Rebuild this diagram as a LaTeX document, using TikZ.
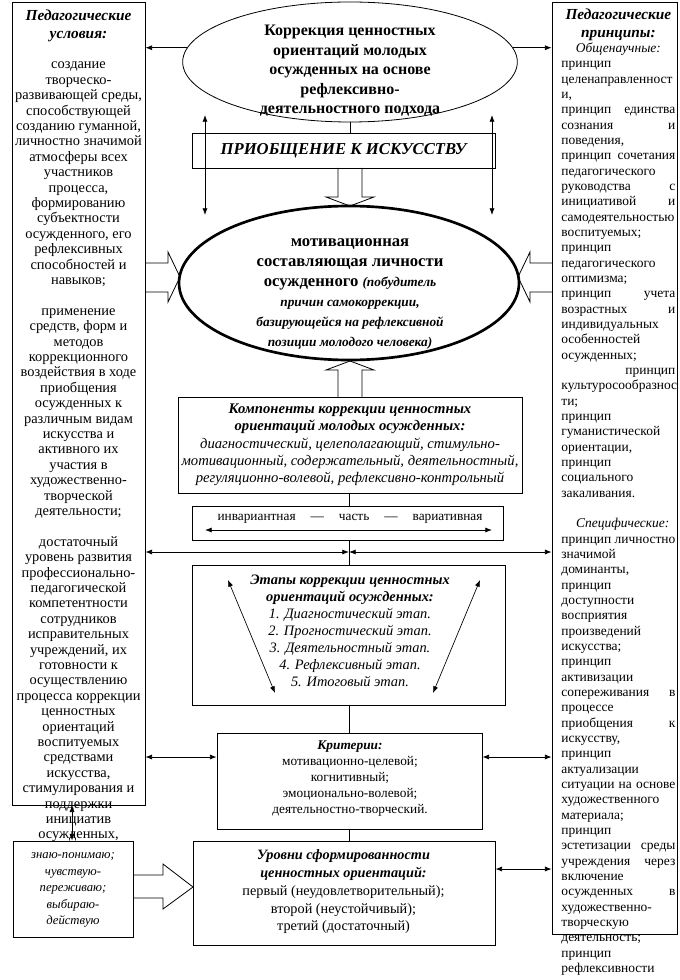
\documentclass[tikz,border=0pt]{standalone}
\usepackage{fontspec}
\setmainfont{Liberation Serif}
\usetikzlibrary{arrows.meta,shapes.geometric,fit,calc}
\newcommand\myfs[2]{\fontsize{#1}{#2}\selectfont}
\newcommand\ctrl[1]{\makebox[\linewidth][c]{#1}}
\newcommand\bi[1]{\textbf{\textit{#1}}}
\newcommand\ttl[1]{{\myfs{11.5}{11.55}\bi{#1}}}
\begin{document}
\begin{tikzpicture}[x=0.75pt,y=-0.75pt,line width=0.6pt,
  >={Latex[length=5pt,width=3.8pt]},
  frame/.style={draw,inner sep=0pt,fit={#1}},
  txt/.style={inner sep=0pt,align=center},
  hollow/.style={draw,line width=0.6pt}]
\useasboundingbox (0,0) rectangle (679,980);

% side columns
\node[frame={(12,2)(145,805)}] (lbox) {};
\node[frame={(552,2)(677,934)}] (rbox) {};

\node[txt,anchor=north,font=\myfs{10.8}{11.55}] (ltext) at (78.5,9) {%
\ttl{Педагогические}\\[2pt]
\ttl{условия:}\\
\mbox{}\\
создание\\
творческо-\\
развивающей среды,\\
способствующей\\
созданию гуманной,\\
личностно значимой\\
атмосферы всех\\
участников\\
процесса,\\
формированию\\
субъектности\\
осужденного, его\\
рефлексивных\\
способностей и\\
навыков;\\
\mbox{}\\
применение\\
средств, форм и\\
методов\\
коррекционного\\
воздействия в ходе\\
приобщения\\
осужденных к\\
различным видам\\
искусства и\\
активного их\\
участия в\\
художественно-\\
творческой\\
деятельности;\\
\mbox{}\\
достаточный\\
уровень развития\\
профессионально-\\
педагогической\\
компетентности\\
сотрудников\\
исправительных\\
учреждений, их\\
готовности к\\
осуществлению\\
процесса коррекции\\
ценностных\\
ориентаций\\
воспитуемых\\
средствами\\
искусства,\\
стимулирования и\\
поддержки\\
инициатив\\
осужденных,};

\node[inner sep=0pt,align=left,text width=85.5pt,anchor=north west,font=\myfs{10.1}{11.5}] (rtext) at (561,8) {%
\ctrl{\ttl{Педагогические}}\\[2pt]
\ctrl{\ttl{принципы:}}\\
\ctrl{\textit{Общенаучные:}}\\
принцип\\
целенаправленност\\
и,\\
принцип\hfill единства\\
сознания\hfill и\\
поведения,\\
принцип\hfill сочетания\\
педагогического\\
руководства\hfill с\\
инициативой\hfill и\\
самодеятельностью\\
воспитуемых;\\
принцип\\
педагогического\\
оптимизма;\\
принцип\hfill учета\\
возрастных\hfill и\\
индивидуальных\\
особенностей\\
осужденных;\\
\hspace*{\fill}принцип\\
культуросообразнос\\
ти;\\
принцип\\
гуманистической\\
ориентации,\\
принцип\\
социального\\
закаливания.\\
\mbox{}\\
\hspace*{1.1em}\textit{Специфические:}\\
принцип\hfill личностно\\
значимой\\
доминанты,\\
принцип\\
доступности\\
восприятия\\
произведений\\
искусства;\\
принцип\\
активизации\\
сопереживания\hfill в\\
процессе\\
приобщения\hfill к\\
искусству,\\
принцип\\
актуализации\\
ситуации\hfill на\hfill основе\\
художественного\\
материала;\\
принцип\\
эстетизации\hfill среды\\
учреждения\hfill через\\
включение\\
осужденных\hfill в\\
художественно-\\
творческую\\
деятельность;\\
принцип\\
рефлексивности};

% top ellipse
\node[draw,ellipse,minimum width=251pt,minimum height=90pt,inner sep=0pt] (ell1) at (350,62) {};
\node[txt,font=\bfseries\myfs{12}{14.6}] (ell1t) at (350,71) {Коррекция ценностных\\ориентаций молодых\\осужденных на основе\\рефлексивно-\\деятельностного подхода};

% art box
\node[frame={(192,133)(495,168)}] (pri) {};
\node[txt,font=\bfseries\itshape\myfs{12.5}{15}] (prit) at (343.5,150.5) {ПРИОБЩЕНИЕ К ИСКУССТВУ};

% motivation ellipse
\node[draw,ellipse,line width=2pt,minimum width=255pt,minimum height=115.5pt,inner sep=0pt] (ell2) at (349,283) {};
\node[txt,font=\bfseries\myfs{12.5}{15}] (ell2t) at (350,294) {мотивационная\\составляющая личности\\осужденного {\itshape\myfs{10}{15}(побудитель}\\
{\itshape\myfs{10}{15}причин самокоррекции,}\\
{\itshape\myfs{10}{15}базирующейся на рефлексивной}\\
{\itshape\myfs{10}{15}позиции молодого человека)}};

% components
\node[frame={(178,397)(522,493)}] (comp) {};
\node[txt,font=\itshape\myfs{11}{13}] (compt) at (350,445) {\bi{Компоненты коррекции ценностных}\\\bi{ориентаций молодых осужденных:}\\
диагностический, целеполагающий, стимульно-\\мотивационный, содержательный, деятельностный,\\регуляционно-волевой, рефлексивно-контрольный};

% invariant
\node[frame={(192,506)(503,540)}] (inv) {};
\node[txt,font=\myfs{10}{12}] (invt) at (350,519) {\makebox[198.75pt][s]{инвариантная\hfill—\hfill часть\hfill—\hfill вариативная}};
\coordinate (ia) at (205,530);
\coordinate (ib) at (492,530);
\draw[<->] (ia) -- (ib);

% stages
\node[frame={(192,565)(505,705)}] (stg) {};
\node[txt,font=\itshape\myfs{10.8}{12.8}] (stgt) at (350,631) {\bi{Этапы коррекции ценностных}\\\bi{ориентаций осужденных:}\\
1. Диагностический этап.\\2. Прогностический этап.\\3. Деятельностный этап.\\4. Рефлексивный этап.\\5. Итоговый этап.};
\coordinate (sa1) at (228,580); \coordinate (sa2) at (275,693);
\coordinate (sb1) at (480,580); \coordinate (sb2) at (433,693);
\draw[<->,line width=0.5pt] (sa1) -- (sa2);
\draw[<->,line width=0.5pt] (sb1) -- (sb2);

% criteria
\node[frame={(217,733)(482,829)}] (crit) {};
\node[txt,font=\myfs{10}{12}] (critt) at (350,779) {\bi{Критерии:}\\мотивационно-целевой;\\когнитивный;\\эмоционально-волевой;\\деятельностно-творческий.};

% levels
\node[frame={(193,841)(495,945)}] (lev) {};
\node[txt,font=\myfs{10.7}{13.3}] (levt) at (343.5,892) {\bi{Уровни сформированности}\\\bi{ценностных ориентаций:}\\первый (неудовлетворительный);\\второй (неустойчивый);\\третий (достаточный)};

% small box
\node[frame={(13,841)(133,937)}] (sml) {};
\node[txt,font=\itshape\myfs{9.5}{12.4}] (smlt) at (73,890) {знаю-понимаю;\\чувствую-\\переживаю;\\выбираю-\\действую};

% connectors
\draw[->] (ell1.175) -- (lbox.east |- ell1.175);
\draw[->] (ell1.5) -- (rbox.west |- ell1.5);
\coordinate (va1) at (205,115); \coordinate (va2) at (205,215);
\coordinate (vb1) at (492,115); \coordinate (vb2) at (492,215);
\draw[<->] (va1) -- (va2);
\draw[<->] (vb1) -- (vb2);
\draw (ell1.south) -- (ell1.south |- pri.north);

% hollow arrows
\draw[hollow] (338,168) -- (338,197) -- (326,197) -- (350,206) -- (374,197) -- (362,197) -- (362,168);
\draw[hollow] (145,263) -- (168,263) -- (168,252) -- (180,277) -- (168,302) -- (168,292) -- (145,292);
\draw[hollow] (552,263) -- (530,263) -- (530,252) -- (518,277) -- (530,302) -- (530,292) -- (552,292);
\draw[hollow] (338,397) -- (338,370) -- (326,370) -- (350,361) -- (374,370) -- (362,370) -- (362,397);
\draw[hollow] (133,875) -- (163,875) -- (163,864) -- (193,887) -- (163,909) -- (163,898) -- (133,898);

\coordinate (cx) at (349,0);
\draw (comp.south -| cx) -- (inv.north -| cx);
\draw (inv.south -| cx) -- (stg.north -| cx);
\draw (stg.south -| cx) -- (crit.north -| cx);
\draw (crit.south -| cx) -- (lev.north -| cx);

\coordinate (mid) at (349,552);
\draw[<->] (lbox.east |- mid) -- (mid);
\draw[<->] (rbox.west |- mid) -- (mid);

\coordinate (cy) at (0,757);
\draw[<->] (lbox.east |- cy) -- (crit.west |- cy);
\draw[<->] (rbox.west |- cy) -- (crit.east |- cy);

\coordinate (ly) at (0,869);
\draw[<->] (lev.east |- ly) -- (rbox.west |- ly);

\coordinate (sx) at (72,0);
\draw[<->] (lbox.south -| sx) -- (sml.north -| sx);
\end{tikzpicture}
\end{document}
